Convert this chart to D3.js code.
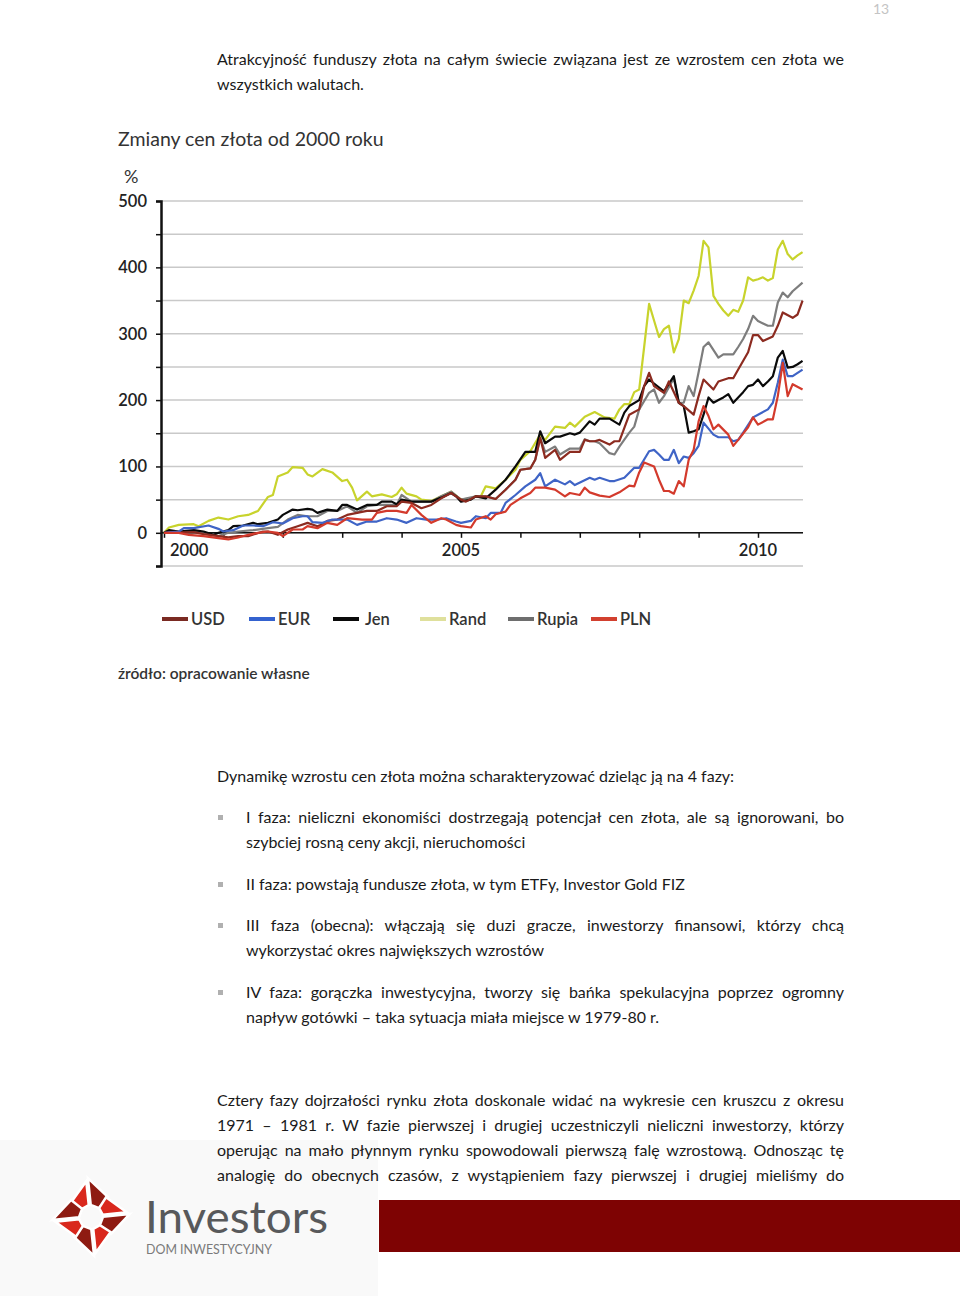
<!DOCTYPE html>
<html>
<head>
<meta charset="utf-8">
<script src="https://cdn.jsdelivr.net/npm/d3@7/dist/d3.min.js"></script>
<style>
  body { margin: 0; background: #fff; }
  svg { display: block; font-family: Lato, "Open Sans", sans-serif; }
</style>
</head>
<body>
<svg id="page" width="960" height="1296"></svg>
<script>
// values: [months since Jan 2000, % change]
var usd = [[0,0],[6,1],[8,-2],[11,-5],[13,-7],[15,-5],[17,-5],[20,2],[21,2],[23,-3],[25,5],[27,10],[29,15],[31,10],[32,13],[33,18],[35,20],[37,27],[39,30],[41,33],[43,33],[45,40],[47,40],[48,47],[50,45],[52,37],[54,42],[56,52],[58,60],[60,50],[61,47],[63,55],[65,55],[67,51],[69,65],[71,80],[72,95],[74,97],[75,110],[76,143],[77,113],[79,125],[80,110],[82,122],[84,122],[85,140],[86,138],[87,138],[88,140],[90,133],[91,138],[92,138],[93,158],[94,178],[96,186],[97,221],[98,241],[99,221],[101,211],[102,228],[104,196],[105,191],[107,178],[108,206],[109,231],[111,216],[112,228],[114,233],[115,233],[116,246],[118,272],[119,298],[120,298],[121,289],[123,296],[124,312],[125,332],[127,324],[128,329],[129,350]];
var eur = [[0,0],[3,2],[4,7],[6,7],[9,11],[11,6],[12,2],[14,4],[16,11],[18,11],[20,10],[22,16],[24,14],[26,22],[28,25],[29,25],[30,16],[32,15],[34,20],[36,20],[37,20],[39,12],[41,17],[43,17],[45,22],[47,20],[49,15],[51,22],[53,20],[55,20],[57,22],[59,17],[60,15],[62,18],[63,25],[65,22],[66,30],[68,30],[69,45],[71,57],[73,70],[75,80],[76,90],[77,70],[79,80],[81,73],[82,78],[83,72],[86,83],[87,80],[88,83],[90,78],[91,78],[93,83],[95,98],[96,98],[98,123],[99,125],[100,118],[101,110],[102,110],[103,125],[104,105],[105,115],[106,113],[107,120],[108,131],[109,166],[111,148],[112,144],[114,144],[115,138],[116,140],[117,151],[119,174],[120,178],[122,186],[123,196],[124,226],[125,261],[126,236],[127,236],[129,246]];
var jen = [[0,0],[1,4],[3,2],[6,4],[8,2],[10,-3],[11,0],[13,4],[14,10],[16,11],[18,15],[19,13],[21,15],[23,20],[24,27],[26,35],[27,34],[29,36],[30,35],[31,30],[33,35],[35,33],[36,42],[37,42],[39,35],[41,42],[43,42],[44,47],[46,47],[47,43],[48,50],[50,47],[52,47],[54,47],[56,53],[58,60],[59,55],[60,47],[62,50],[63,55],[65,52],[67,65],[69,80],[71,100],[73,122],[75,122],[76,153],[77,135],[79,145],[80,145],[82,150],[83,148],[84,151],[86,168],[87,163],[88,172],[90,172],[92,163],[93,181],[94,191],[96,200],[97,221],[98,231],[99,225],[101,213],[103,236],[104,196],[105,191],[106,151],[107,153],[108,156],[109,178],[110,204],[111,196],[112,200],[113,204],[114,209],[115,196],[116,204],[117,212],[118,221],[119,223],[120,231],[121,221],[122,228],[123,236],[124,264],[125,274],[126,249],[127,250],[128,254],[129,259]];
var rand = [[0,0],[1,8],[3,12],[6,13],[7,10],[9,18],[11,23],[13,20],[15,25],[17,27],[19,33],[21,54],[22,57],[23,85],[25,91],[26,99],[28,98],[29,88],[30,85],[32,96],[34,91],[36,78],[37,80],[38,68],[39,49],[41,62],[42,55],[44,58],[46,54],[47,58],[48,68],[49,59],[51,55],[52,50],[54,48],[56,55],[58,62],[60,50],[62,52],[63,55],[64,55],[65,70],[67,67],[69,80],[71,95],[72,110],[74,123],[76,148],[77,140],[79,160],[81,158],[82,166],[83,160],[85,175],[87,182],[89,174],[91,172],[92,186],[93,194],[94,194],[95,212],[96,216],[97,280],[98,345],[99,320],[100,295],[101,307],[102,312],[103,272],[104,292],[105,350],[106,346],[107,365],[108,387],[109,440],[110,430],[111,357],[112,345],[113,335],[114,327],[115,336],[116,333],[117,350],[118,385],[119,380],[120,382],[121,385],[122,380],[123,384],[124,427],[125,440],[126,420],[127,412],[128,418],[129,423]];
var rupia = [[0,0],[6,2],[8,0],[11,-5],[13,0],[15,2],[18,4],[21,7],[23,9],[25,20],[27,27],[29,25],[30,25],[31,25],[33,33],[35,33],[37,40],[39,30],[41,40],[43,42],[45,42],[47,42],[48,57],[50,47],[52,47],[54,47],[56,55],[58,62],[60,50],[63,55],[65,55],[67,51],[69,65],[71,80],[72,95],[74,97],[75,110],[76,143],[77,122],[79,130],[80,118],[82,127],[84,127],[85,141],[86,138],[87,138],[88,135],[90,120],[91,118],[92,130],[94,151],[95,160],[96,186],[98,211],[99,216],[100,196],[101,206],[103,233],[104,196],[105,196],[106,221],[107,206],[108,242],[109,280],[110,287],[112,264],[113,269],[115,269],[116,280],[117,292],[118,307],[119,327],[120,319],[122,312],[123,312],[124,347],[125,362],[126,355],[127,364],[129,377]];
var pln = [[0,0],[3,0],[5,-3],[8,-5],[11,-8],[13,-10],[15,-7],[17,-3],[19,0],[21,2],[23,0],[24,-5],[26,5],[28,5],[29,10],[31,7],[33,15],[35,12],[37,22],[40,20],[42,20],[43,30],[45,33],[47,33],[49,30],[50,42],[52,27],[54,15],[56,22],[57,20],[59,12],[60,10],[62,8],[63,20],[65,25],[66,20],[67,28],[69,32],[70,42],[72,52],[74,60],[75,68],[77,68],[79,65],[81,55],[82,60],[84,57],[85,68],[86,61],[88,56],[90,54],[92,61],[94,71],[95,70],[96,91],[97,106],[99,100],[100,80],[101,63],[102,63],[103,59],[104,78],[105,70],[106,110],[107,125],[108,168],[109,191],[110,176],[111,156],[112,163],[114,148],[115,131],[116,140],[118,159],[119,174],[120,163],[122,171],[123,171],[124,206],[125,256],[126,206],[127,224],[129,216]];

var names = ['USD', 'EUR', 'Jen', 'Rand', 'Rupia', 'PLN'];
var yearTicks = [0, 12, 24, 36, 48, 60, 72, 84, 96, 108, 120];
var yearLabels = ['2000', '2005', '2010'];
var valueTicks = [-50, 0, 50, 100, 150, 200, 250, 300, 350, 400, 450, 500];
var valueLabels = [0, 100, 200, 300, 400, 500];

var svg = d3.select('#page');

// ---- text helpers
function line(x, y, str, width, size, color) {
    var t = svg.append('text')
        .attr('x', x)
        .attr('y', y)
        .style('font-size', (size || 16) + 'px')
        .style('fill', color || '#1a1a1a')
        .text(str);
    if (width) {
        var len = t.node().getComputedTextLength();
        var spaces = (str.match(/ /g) || []).length;
        if (spaces) t.style('word-spacing', ((width - len) / spaces) + 'px');
    }
    return t;
}

svg.append('rect').attr('x', 0).attr('y', 1140).attr('width', 378).attr('height', 156).style('fill', '#f9f9f9');

line(873, 14, '13', 0, 14, '#c4c4c4');

line(217, 65, 'Atrakcyjność funduszy złota na całym świecie związana jest ze wzrostem cen złota we', 627);
line(217, 90, 'wszystkich walutach.');

// ---- chart
var x = d3.scaleLinear().domain([0, 120]).range([164, 758]);
var y = d3.scaleLinear().domain([-50, 500]).range([566, 201]);

svg.append('text')
    .attr('x', 118).attr('y', 146)
    .style('font-size', '19.5px').style('fill', '#333')
    .text('Zmiany cen złota od 2000 roku');
svg.append('text')
    .attr('x', 124).attr('y', 183)
    .style('font-size', '18px').style('fill', '#333')
    .text('%');

svg.append('g').selectAll('line')
    .data(valueTicks)
    .enter()
    .append('line')
    .attr('x1', 161).attr('x2', 803)
    .attr('y1', function(d) { return y(d); })
    .attr('y2', function(d) { return y(d); })
    .style('stroke', '#c9c9c9')
    .style('stroke-width', 1.5);

var yAxis = svg.append('g')
    .attr('transform', 'translate(161,0)')
    .call(d3.axisLeft(y).tickValues(valueTicks).tickSize(5).tickFormat(''));
yAxis.select('.domain').style('stroke', '#111').style('stroke-width', 2.5);
yAxis.selectAll('.tick line').style('stroke', '#111').style('stroke-width', 1.5);

svg.append('g').selectAll('text')
    .data(valueLabels)
    .enter()
    .append('text')
    .attr('x', 147)
    .attr('y', function(d) { return y(d) + 6; })
    .attr('text-anchor', 'end')
    .style('font-size', '16.5px').style('fill', '#222').style('font-weight', 600)
    .text(function(d) { return d; });

var xAxis = svg.append('g')
    .attr('transform', 'translate(0,' + y(0) + ')')
    .call(d3.axisBottom(x).tickValues(yearTicks).tickSize(5).tickSizeOuter(0).tickFormat(''));
xAxis.select('.domain').attr('d', 'M161,0H803').style('stroke', '#111').style('stroke-width', 1.5);
xAxis.selectAll('.tick line').style('stroke', '#111').style('stroke-width', 1.5);

svg.append('g').selectAll('text')
    .data(yearLabels)
    .enter()
    .append('text')
    .attr('x', function(d, i) { return i === 0 ? x(0) + 6 : x((+d - 2000) * 12); })
    .attr('y', 556)
    .attr('text-anchor', function(d, i) { return i === 0 ? 'start' : 'middle'; })
    .style('font-size', '16.5px').style('fill', '#222').style('font-weight', 600)
    .text(function(d) { return d; });

var series = [
    { name: 'Rand', data: rand, color: '#c8d32c', key: '#dfe09c' },
    { name: 'Rupia', data: rupia, color: '#7d7d7d', key: '#6e6e6e' },
    { name: 'Jen', data: jen, color: '#0a0a0a', key: '#0a0a0a' },
    { name: 'USD', data: usd, color: '#8c2b20', key: '#7a2a22' },
    { name: 'EUR', data: eur, color: '#3f64c6', key: '#3462cf' },
    { name: 'PLN', data: pln, color: '#d33a2c', key: '#d2402f' }
];

var path = d3.line()
    .x(function(d) { return x(d[0]); })
    .y(function(d) { return y(d[1]); });

svg.append('g').selectAll('path')
    .data(series)
    .enter()
    .append('path')
    .attr('d', function(d) { return path(d.data); })
    .style('fill', 'none')
    .style('stroke', function(d) { return d.color; })
    .style('stroke-width', 2.2)
    .style('stroke-linejoin', 'round');

// ---- legend
var legendX = [162, 249, 333, 420, 508, 591];
var byName = {};
series.forEach(function(s) { byName[s.name] = s; });

var leg = svg.append('g').selectAll('g')
    .data(names)
    .enter()
    .append('g')
    .attr('transform', function(d, i) { return 'translate(' + legendX[i] + ',619)'; });
leg.append('line')
    .attr('x1', 0).attr('x2', 26)
    .style('stroke', function(d) { return byName[d].key; })
    .style('stroke-width', 4);
leg.append('text')
    .attr('x', function(d) { return d === 'Jen' ? 32 : 29; })
    .attr('y', 6)
    .style('font-size', '16.5px').style('fill', '#333').style('font-weight', 600)
    .text(function(d) { return d; });

svg.append('text')
    .attr('x', 118).attr('y', 679)
    .style('font-size', '15.5px').style('fill', '#333').style('font-weight', 600)
    .text('źródło: opracowanie własne');

// ---- body text
line(217, 782, 'Dynamikę wzrostu cen złota można scharakteryzować dzieląc ją na 4 fazy:');

var bullets = [
    [['I faza: nieliczni ekonomiści dostrzegają potencjał cen złota, ale są ignorowani, bo', 1], ['szybciej rosną ceny akcji, nieruchomości', 0]],
    [['II faza: powstają fundusze złota, w tym ETFy, Investor Gold FIZ', 0]],
    [['III faza (obecna): włączają się duzi gracze, inwestorzy finansowi, którzy chcą', 1], ['wykorzystać okres największych wzrostów', 0]],
    [['IV faza: gorączka inwestycyjna, tworzy się bańka spekulacyjna poprzez ogromny', 1], ['napływ gotówki – taka sytuacja miała miejsce w 1979-80 r.', 0]]
];
var bulletY = [818, 885, 926, 993];
bullets.forEach(function(b, i) {
    svg.append('rect')
        .attr('x', 218).attr('y', bulletY[i] - 3)
        .attr('width', 5).attr('height', 5)
        .style('fill', '#b0b0b0');
    b.forEach(function(l, j) {
        line(246, bulletY[i] + 5 + j * 25, l[0], l[1] ? 598 : 0);
    });
});

var para = [
    'Cztery fazy dojrzałości rynku złota doskonale widać na wykresie cen kruszcu z okresu',
    '1971 – 1981 r. W fazie pierwszej i drugiej uczestniczyli nieliczni inwestorzy, którzy',
    'operując na mało płynnym rynku spowodowali pierwszą falę wzrostową. Odnosząc tę',
    'analogię do obecnych czasów, z wystąpieniem fazy pierwszej i drugiej mieliśmy do'
];
para.forEach(function(l, i) {
    line(217, 1106 + i * 25, l, 627);
});

// ---- footer
svg.append('rect')
    .attr('x', 379).attr('y', 1200)
    .attr('width', 581).attr('height', 52)
    .style('fill', '#7e0303');

var logo = svg.append('g').attr('transform', 'translate(91,1217) rotate(-6)');
var R = 39, a = 18, b = 4;
[0, 90, 180, 270].forEach(function(r) {
    var arm = logo.append('g').attr('transform', 'rotate(' + r + ')');
    arm.append('polygon')
        .attr('points', [[-1, -R + 3], [-a, -a + 1], [-8, -9], [-1, -b - 8]].join(' '))
        .style('fill', '#d9281d').style('stroke', '#fff').style('stroke-width', 2.5);
    arm.append('polygon')
        .attr('points', [[1, -R], [1, -b - 8], [9, -8], [a + 1, -a]].join(' '))
        .style('fill', '#8e1b12').style('stroke', '#fff').style('stroke-width', 2.5);
});

svg.append('text')
    .attr('x', 145).attr('y', 1233)
    .attr('textLength', 183).attr('lengthAdjust', 'spacingAndGlyphs')
    .style('font-size', '45px').style('fill', '#58595b')
    .text('Investors');
svg.append('text')
    .attr('x', 146).attr('y', 1254)
    .attr('textLength', 126).attr('lengthAdjust', 'spacingAndGlyphs')
    .style('font-size', '12.5px').style('fill', '#7a7a7a')
    .text('DOM INWESTYCYJNY');
</script>
</body>
</html>
